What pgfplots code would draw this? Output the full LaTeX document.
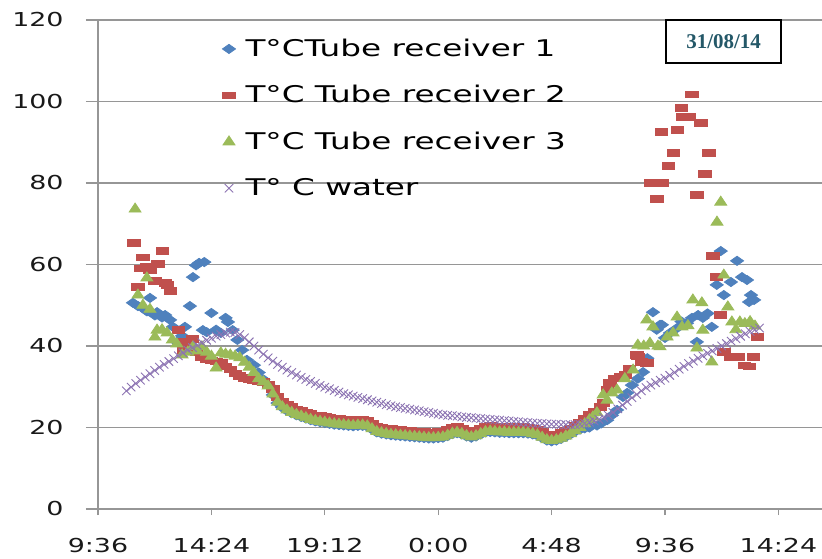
\documentclass[border=0pt]{standalone}
\usepackage{fontspec}
\setmainfont{DejaVu Sans}
\newfontfamily\datefont{Liberation Serif}
\usepackage{graphicx}
\usepackage{pgfplots}
\pgfplotsset{compat=1.18}
\definecolor{tblue}{RGB}{79,129,189}
\definecolor{tred}{RGB}{192,80,77}
\definecolor{tgreen}{RGB}{155,187,89}
\definecolor{tpurple}{RGB}{140,115,178}
\definecolor{gridgray}{RGB}{150,150,150}
\definecolor{datecol}{RGB}{36,88,104}
\begin{document}
\begin{tikzpicture}
\begin{axis}[
  scale only axis, width=362pt, height=244.5pt,
  xmin=9.6, xmax=40.246, ymin=0, ymax=120,
  clip=false,
  axis x line*=bottom, axis y line*=left,
  axis line style={-, gridgray, line width=0.7pt},
  ymajorgrids, grid style={gridgray, line width=0.6pt},
  ytick={0,20,...,120},
  yticklabels={},
  xtick={9.6,14.4,19.2,24,28.8,33.6,38.4},
  xticklabels={9:36,14:24,19:12,0:00,4:48,9:36,14:24},
  tick align=outside,
  major tick style={gridgray, line width=0.6pt},
  xtick style={/pgfplots/major tick length=3pt},
  ytick style={/pgfplots/major tick length=6pt},
  tick label style={font=\fontsize{9.6}{11}\selectfont, text=black!90},
  xticklabel style={xscale=1.4, yshift=-7pt},
  legend style={at={(axis cs:14.85,116)}, anchor=north west, draw=none, fill=none,
    font=\fontsize{11.5}{13}\selectfont, row sep=11pt, column sep=4pt, inner sep=0pt, nodes={inner sep=1pt}},
  legend cell align=left,
]
% Tube receiver 1
\addplot[only marks, mark=diamond*, mark size=2.3pt, color=tblue, mark options={xscale=1.9}] coordinates {
(11.08,50.6) (11.29,49.8) (11.5,49.3) (11.67,48.5) (11.8,51.8) (12.01,47.5) (12.1,48.3) (12.31,47.0) (12.44,47.6) (12.65,46.4) (12.77,44.7) (12.94,41.0) (13.16,42.5) (13.28,44.7) (13.41,40.2) (13.49,49.8) (13.62,56.9) (13.75,59.8) (13.88,60.4) (14.1,60.6)
(14.04,43.9) (14.2,43.4) (14.4,48.1) (14.6,44.0) (14.8,43.2) (15.0,46.9) (15.1,45.9) (15.3,43.9) (15.5,41.5) (15.7,39.0) (15.9,36.6) (16.2,35.3) (16.4,33.5) (16.6,31.8) (16.8,30.5)
(17.0,28.0) (17.2,26.0) (17.4,24.9) (17.6,24.1) (17.8,23.5) (18.0,23.0) (18.2,22.6) (18.4,22.2) (18.6,21.8) (18.8,21.5) (19.0,21.3) (19.2,21.1) (19.4,20.9) (19.6,20.7) (19.8,20.6) (20.0,20.5) (20.2,20.4) (20.4,20.3) (20.6,20.4) (20.8,20.4) (21.0,20.2) (21.2,19.5) (21.4,18.8) (21.6,18.5) (21.8,18.3) (22.0,18.1) (22.2,18.0) (22.4,17.9) (22.6,17.8) (22.8,17.7) (23.0,17.6) (23.2,17.5) (23.4,17.4) (23.6,17.3) (23.8,17.3) (24.0,17.4) (24.2,17.5) (24.4,17.9) (24.6,18.4) (24.8,18.6) (25.0,18.3) (25.2,17.8) (25.4,17.5) (25.6,17.8) (25.8,18.3) (26.0,18.8) (26.2,18.9) (26.4,18.8) (26.6,18.7) (26.8,18.7) (27.0,18.6) (27.2,18.6) (27.4,18.6) (27.6,18.6) (27.8,18.5) (28.0,18.3) (28.2,18.0) (28.4,17.4) (28.6,16.8) (28.8,16.6) (29.0,16.8) (29.2,17.2) (29.4,17.7) (29.6,18.3) (29.8,19.0) (30.0,19.5)
(30.2,19.8) (30.4,20.0) (30.72,20.5) (30.9,21.0) (31.15,21.8) (31.35,23.0) (31.57,24.3) (31.82,27.5) (32.0,28.5) (32.2,30.4) (32.45,32.0) (32.67,33.6) (32.85,37.0) (33.09,48.3) (33.25,44.0) (33.39,45.2) (33.47,45.2) (33.6,42.0) (33.81,43.2) (34.11,44.4) (34.3,46.0) (34.53,45.6) (34.74,46.9) (34.95,41.0) (35.0,47.6) (35.2,46.9) (35.4,48.0) (35.58,44.7) (35.79,55.0) (35.96,63.3) (36.09,52.5) (36.39,55.7) (36.65,60.9) (36.86,56.9) (37.07,56.2) (37.16,50.8) (37.24,52.5) (37.37,51.3)
};
\addlegendentry{\scalebox{1.42}[1]{T°CTube receiver 1}}
% Tube receiver 2
\addplot[only marks, mark=square*, mark size=1.8pt, color=tred, mark options={xscale=1.7, yscale=0.9}] coordinates {
(11.12,65.3) (11.29,54.5) (11.38,59.0) (11.5,61.8) (11.67,59.4) (11.8,58.5) (12.01,56.0) (12.14,60.1) (12.31,63.3) (12.44,55.5) (12.55,55.0) (12.65,53.5) (12.99,43.9) (13.1,41.0) (13.2,39.0) (13.41,40.0) (13.58,41.7) (13.75,38.5)
(14.0,37.3) (14.2,36.8) (14.4,36.5) (14.6,36.2) (14.8,35.8) (15.0,35.0) (15.2,34.3) (15.4,33.3) (15.6,32.7) (15.8,32.2) (16.0,31.8) (16.2,31.5) (16.4,31.4) (16.6,31.2) (16.8,30.6)
(17.0,29.5) (17.2,27.5) (17.4,26.4) (17.6,25.6) (17.8,25.0) (18.0,24.5) (18.2,24.1) (18.4,23.7) (18.6,23.3) (18.8,23.0) (19.0,22.8) (19.2,22.6) (19.4,22.4) (19.6,22.2) (19.8,22.1) (20.0,22.0) (20.2,21.9) (20.4,21.8) (20.6,21.9) (20.8,21.9) (21.0,21.7) (21.2,21.0) (21.4,20.3) (21.6,20.0) (21.8,19.8) (22.0,19.6) (22.2,19.5) (22.4,19.4) (22.6,19.3) (22.8,19.2) (23.0,19.1) (23.2,19.0) (23.4,18.9) (23.6,18.8) (23.8,18.8) (24.0,18.9) (24.2,19.0) (24.4,19.4) (24.6,19.9) (24.8,20.1) (25.0,19.8) (25.2,19.3) (25.4,19.0) (25.6,19.3) (25.8,19.8) (26.0,20.3) (26.2,20.4) (26.4,20.3) (26.6,20.2) (26.8,20.2) (27.0,20.1) (27.2,20.1) (27.4,20.1) (27.6,20.1) (27.8,20.0) (28.0,19.8) (28.2,19.5) (28.4,18.9) (28.6,18.3) (28.8,18.1) (29.0,18.3) (29.2,18.7) (29.4,19.2) (29.6,19.8) (29.8,20.5) (30.0,21.3) (30.2,22.2) (30.4,23.2)
(30.6,23.8) (30.85,25.0) (30.98,26.0) (31.15,29.2) (31.27,30.9) (31.48,32.0) (31.7,32.5) (31.91,32.9) (32.1,34.5) (32.41,37.8) (32.45,37.5) (32.6,36.1) (32.83,35.8) (33.0,80.0) (33.26,76.1) (33.45,92.5) (33.5,80.0) (33.73,84.2) (33.94,87.4) (34.11,93.0) (34.28,98.4) (34.36,96.2) (34.62,96.2) (34.74,101.8) (34.95,77.1) (35.12,94.7) (35.29,82.2) (35.46,87.4) (35.63,62.1) (35.79,56.9) (35.96,47.6) (36.09,38.5) (36.39,37.3) (36.69,37.3) (36.95,35.3) (37.16,35.0) (37.33,37.3) (37.5,42.2)
};
\addlegendentry{\scalebox{1.42}[1]{T°C Tube receiver 2}}
% Tube receiver 3
\addplot[only marks, mark=triangle*, mark size=3pt, color=tgreen, mark options={xscale=1.15}] coordinates {
(11.17,73.6) (11.29,52.5) (11.5,50.0) (11.67,56.7) (11.8,49.0) (12.01,42.2) (12.1,43.9) (12.31,44.0) (12.52,43.2) (12.75,41.5) (12.94,40.5) (13.16,37.8) (13.4,38.5) (13.62,39.8) (13.8,38.8)
(14.0,39.8) (14.2,38.5) (14.4,37.5) (14.6,34.6) (14.8,38.3) (15.0,38.0) (15.2,37.8) (15.4,37.5) (15.6,37.1) (15.8,36.0) (16.0,34.8) (16.2,33.5) (16.4,32.0) (16.6,31.2) (16.8,30.2)
(17.0,28.2) (17.2,26.2) (17.4,25.1) (17.6,24.3) (17.8,23.7) (18.0,23.2) (18.2,22.8) (18.4,22.4) (18.6,22.0) (18.8,21.7) (19.0,21.5) (19.2,21.3) (19.4,21.1) (19.6,20.9) (19.8,20.8) (20.0,20.7) (20.2,20.6) (20.4,20.5) (20.6,20.6) (20.8,20.6) (21.0,20.4) (21.2,19.7) (21.4,19.0) (21.6,18.7) (21.8,18.5) (22.0,18.3) (22.2,18.2) (22.4,18.1) (22.6,18.0) (22.8,17.9) (23.0,17.8) (23.2,17.7) (23.4,17.6) (23.6,17.5) (23.8,17.5) (24.0,17.6) (24.2,17.7) (24.4,18.1) (24.6,18.6) (24.8,18.8) (25.0,18.5) (25.2,18.0) (25.4,17.7) (25.6,18.0) (25.8,18.5) (26.0,19.0) (26.2,19.1) (26.4,19.0) (26.6,18.9) (26.8,18.9) (27.0,18.8) (27.2,18.8) (27.4,18.8) (27.6,18.8) (27.8,18.7) (28.0,18.5) (28.2,18.2) (28.4,17.6) (28.6,17.0) (28.8,16.8) (29.0,17.0) (29.2,17.4) (29.4,17.9) (29.6,18.5) (29.8,19.2) (30.0,20.0) (30.2,20.9) (30.4,21.9)
(30.55,22.6) (30.72,23.6) (30.98,28.0) (31.15,26.7) (31.35,28.5) (31.57,29.2) (31.9,32.0) (32.25,34.1) (32.45,40.2) (32.7,40.0) (32.83,46.4) (32.96,40.7) (33.09,44.7) (33.3,40.0) (33.39,39.8) (33.69,42.2) (33.94,43.2) (34.11,47.1) (34.32,44.7) (34.57,45.0) (34.78,51.3) (34.95,39.5) (35.16,50.6) (35.2,43.9) (35.58,36.1) (35.8,70.4) (35.96,75.3) (36.09,57.4) (36.26,49.6) (36.43,45.9) (36.6,44.0) (36.77,45.9) (36.98,45.5) (37.2,46.0) (37.41,44.9)
};
\addlegendentry{\scalebox{1.42}[1]{T°C Tube receiver 3}}
% water
\addplot[only marks, mark=x, mark size=3pt, color=tpurple, mark options={line width=0.45pt}] coordinates {
(10.8,29.0) (11.0,29.9) (11.2,30.8) (11.4,31.6) (11.6,32.4) (11.8,33.2) (12.0,34.0) (12.2,34.8) (12.4,35.5) (12.6,36.2) (12.8,36.9) (13.0,37.6) (13.2,38.3) (13.4,39.0) (13.6,39.6) (13.8,40.2) (14.0,40.8) (14.2,41.4) (14.4,41.9) (14.6,42.4) (14.8,42.8) (15.0,43.2) (15.2,43.4) (15.4,43.3) (15.6,42.8) (15.8,42.0) (16.0,41.0) (16.2,40.0) (16.4,39.0) (16.6,38.0) (16.8,37.1) (17.0,36.3) (17.2,35.5) (17.4,34.8) (17.6,34.1) (17.8,33.5) (18.0,32.9) (18.2,32.3) (18.4,31.8) (18.6,31.3) (18.8,30.8) (19.0,30.3) (19.2,29.9) (19.4,29.5) (19.6,29.1) (19.8,28.7) (20.0,28.3) (20.2,28.0) (20.4,27.7) (20.6,27.4) (20.8,27.1) (21.0,26.8) (21.2,26.5) (21.4,26.2) (21.6,25.9) (21.8,25.6) (22.0,25.3) (22.2,25.1) (22.4,24.9) (22.6,24.7) (22.8,24.5) (23.0,24.3) (23.2,24.1) (23.4,23.9) (23.6,23.7) (23.8,23.5) (24.0,23.3) (24.2,23.1) (24.4,23.0) (24.6,22.9) (24.8,22.8) (25.0,22.6) (25.2,22.5) (25.4,22.4) (25.6,22.3) (25.8,22.2) (26.0,22.1) (26.2,22.0) (26.4,21.9) (26.6,21.8) (26.8,21.7) (27.0,21.6) (27.2,21.5) (27.4,21.4) (27.6,21.3) (27.8,21.2) (28.0,21.1) (28.2,21.0) (28.4,21.0) (28.6,20.9) (28.8,20.8) (29.0,20.8) (29.2,20.7) (29.4,20.7) (29.6,20.7) (29.8,20.7) (30.0,20.8) (30.2,21.0) (30.4,21.3) (30.6,21.6) (30.8,22.0) (31.0,22.5) (31.2,23.0) (31.4,23.7) (31.6,24.6) (31.8,25.5) (32.0,26.4) (32.2,27.3) (32.4,28.1) (32.6,29.0) (32.8,29.8) (33.0,30.4) (33.2,31.0) (33.4,31.6) (33.6,32.1) (33.8,32.8) (34.0,33.5) (34.2,34.3) (34.4,35.0) (34.6,35.7) (34.8,36.3) (35.0,37.0) (35.2,37.6) (35.4,38.2) (35.6,38.8) (35.8,39.4) (36.0,40.0) (36.2,40.6) (36.4,41.2) (36.6,41.8) (36.8,42.4) (37.0,43.0) (37.2,43.6) (37.4,44.0) (37.6,44.4)
};
\addlegendentry{\scalebox{1.42}[1]{T° C water}}
\pgfplotsinvokeforeach{0,20,40,60,80,100,120}{
  \node[anchor=east, inner sep=0pt, xshift=-17pt, text=black!90, font=\fontsize{9.6}{11}\selectfont] at (axis cs:9.6,#1) {\scalebox{1.4}[1]{#1}};
}
\node[draw=black, line width=1.1pt, fill=white, minimum width=57.5pt, minimum height=21.5pt, inner sep=0pt, text=datecol, font=\datefont\bfseries\fontsize{10.5}{12}\selectfont] at (axis cs:36.08,114.7) {31/08/14};
\end{axis}
\pgfresetboundingbox
\path (-49pt,-24.5pt) rectangle (362pt,254.5pt);
\end{tikzpicture}
\end{document}
